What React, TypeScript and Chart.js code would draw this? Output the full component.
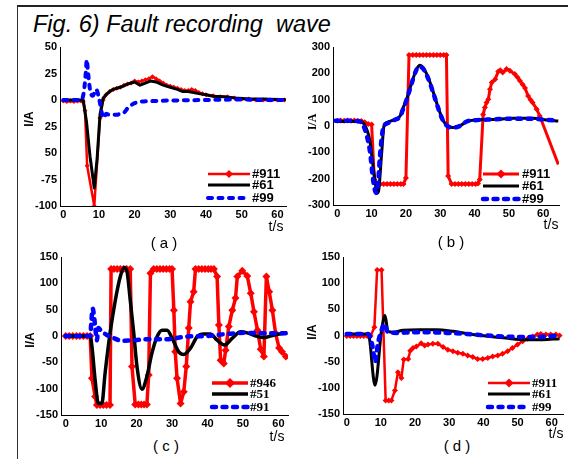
import React, { useEffect, useRef } from "react";
import { Chart, registerables } from "chart.js";
Chart.register(...registerables);

type P = [number, number];

// ---------- tick values / labels ----------
const X_TICKS = [0, 10, 20, 30, 40, 50, 60];
const X_LABELS = ["0", "10", "20", "30", "40", "50", "60"];
const A_Y_TICKS = [50, 25, 0, -25, -50, -75, -100];
const A_Y_LABELS = ["50", "25", "0", "25", "50", "-75", "-100"];
const B_Y_TICKS = [300, 200, 100, 0, -100, -200, -300];
const B_Y_LABELS = ["300", "200", "100", "0", "-100", "-200", "-300"];
const CD_Y_TICKS = [150, 100, 50, 0, -50, -100, -150];
const CD_Y_LABELS = ["150", "100", "50", "0", "-50", "-100", "-150"];

// ---------- series names ----------
const A_NAMES = ["#911", "#61", "#99"];
const B_NAMES = ["#911", "#61", "#99"];
const C_NAMES = ["#946", "#51", "#91"];
const D_NAMES = ["#911", "#61", "#99"];

// ---------- (a) ----------
const A_911: P[] = [[0,-1],[1,-1.5],[2,-1],[3,-1.5],[4,-1],[5,-1],[5.6,-1.5],[6.1,-10],[6.7,-62],[8.7,-100],[10.3,-17],[11.2,0],[12,5],[13,8],[14,10],[15,11],[16,12],[17,14],[18,15],[19,16],[20,18],[21,17],[22,18],[23,19],[24,20],[25,22],[26,20],[27,18],[28,16],[29,14],[30,13],[31,12],[32,11],[33,10],[34,9],[35,9],[36,10],[37,9],[38,7],[39,6],[40,5],[42,4],[44,3],[46,3],[48,2],[50,1],[52,1],[54,0],[56,0],[58,0],[60,0],[62,0]];
const A_61: P[] = [[0,0],[2,0],[4,0],[5.6,0],[6.5,-20],[7.5,-53],[8.7,-83],[9.5,-55],[10.3,-14],[11.2,2],[12,5],[13,8],[14,10],[16,12],[18,15],[20,17],[21.5,14],[23,16],[24.5,18],[26,17],[28,14],[30,12],[32,10],[33.5,8],[35,8],[38,6],[40,5],[42,3.5],[45,3],[48,2],[52,1],[56,1],[60,0.5],[62.3,0.5]];
const A_99: P[] = [[0,0],[2,0],[4,0],[5,0],[5.8,8],[6.3,25],[6.6,38],[6.9,28],[7.2,18],[7.6,8],[8.3,4],[9.2,10],[9.8,5],[10.3,-3],[10.8,-12],[11.4,-17],[12,-13],[13,-14],[14,-14],[15,-14],[16,-13],[17,-12],[18,-8],[19,-5],[20,-3],[22,-1.5],[25,-1],[30,-0.5],[40,0],[50,0.5],[55,0],[60,0],[62.3,0]];

// ---------- (b) ----------
const B_911: P[] = [[0,20],[1,21],[2,20],[3,21],[4,20],[5,21],[6,20],[7,19],[8,14],[9,8],[10,6],[10.8,-203],[11.5,-220],[12.5,-220],[13.5,-220],[14.5,-220],[15.5,-220],[16.5,-220],[17.5,-220],[18.5,-220],[19.3,-220],[20,-197],[20.9,270],[22,270],[23,270],[24,270],[25,270],[26,270],[27,270],[28,270],[29,270],[30,270],[31,270],[31.8,270],[32.3,-190],[33.3,-220],[34.3,-220],[35.3,-220],[36.3,-220],[37.3,-220],[38.3,-220],[39.3,-220],[40.3,-220],[41,-218],[41.5,-203],[42.5,44],[43,70],[43.5,89],[44,102],[44.5,140],[45,165],[46,178],[46.9,207],[47.5,212],[48.2,203],[49.3,216],[50.3,210],[51.7,197],[52.5,185],[53.2,172],[54,158],[54.7,144],[55.6,114],[56.3,100],[56.9,89],[58.1,64],[59,38],[64.4,-146]];
const B_61: P[] = [[-0.5,18],[0,17],[3,18],[6.6,17],[8,4],[9.5,-57],[10.5,-159],[11.7,-254],[12.1,-241],[12.9,-108],[13.6,0],[14.4,13],[16.8,25],[18.3,38],[19.2,70],[20.2,102],[21.7,165],[23.1,216],[24.1,231],[25,222],[26.5,184],[28,127],[29.4,70],[30.9,19],[32.3,0],[33.8,-6],[35.7,0],[37.7,17],[40.1,23],[45.4,25],[51.3,29],[57,29],[61,23],[64.4,19]];
const B_99: P[] = [[-0.5,20],[3,20],[6.1,18],[7.3,8],[8.5,-32],[9.5,-95],[10.5,-210],[11.3,-254],[11.9,-216],[12.4,-120],[13.4,-6],[14.4,9],[16.8,24],[18.3,36],[19.2,65],[20.2,100],[21.7,163],[23,212],[23.9,225],[25,218],[26.5,180],[28,124],[29.4,68],[30.9,18],[32.3,-2],[33.8,-6],[35.7,0],[37.7,17],[40.1,22],[45.4,25],[51.3,28],[57,28],[61,23],[64.4,20]];

// ---------- (c) ----------
const C_946: P[] = [[0,0],[1,0],[2,0],[3,0],[4,0],[5,0],[6,0],[6.9,0],[7.4,-80],[8.3,-115],[8.8,-131],[9.7,-131],[10.6,-131],[11.5,-131],[12.5,-131],[12.8,127],[13.6,127],[14.5,127],[15.4,127],[16.3,127],[17.2,127],[18.2,127],[18.7,-58],[19.6,-130],[20.5,-130],[21.3,-130],[22.1,-130],[22.9,-130],[23.4,-74],[23.9,119],[24.8,127],[25.7,127],[26.6,127],[27.5,127],[28.4,127],[29.3,127],[30,127],[30.5,49],[30.9,-30],[31.4,-80],[32.4,-128],[33.3,-106],[34,-58],[34.7,15],[35.2,65],[36.1,84],[36.6,127],[37.5,127],[38.4,127],[39.3,127],[40.2,127],[41,127],[41.8,127],[42.7,113],[43.2,21],[43.7,-46],[44.6,-52],[45.1,-27],[46,18],[47,49],[47.9,72],[48.4,113],[49.8,124],[51.2,114],[52.2,81],[53.1,46],[54.1,11],[55,-25],[55.9,-39],[56.6,113],[57.4,84],[58.3,49],[59.2,5],[60.2,-23],[61,-30],[62.1,-39]];
const C_51: P[] = [[0,0],[3,0],[6.9,0],[7.4,-20],[8.3,-84],[9.2,-128],[10.2,-128],[11.1,-71],[12.5,5],[14,68],[15.4,113],[16.5,130],[17.3,122],[18.2,68],[19.2,5],[20.1,-58],[21.5,-101],[22.9,-77],[24.3,-33],[25.8,-1],[27.2,11],[28.6,11],[30,-4],[31.9,-30],[33.3,-35],[35.2,-23],[37.1,-1],[39,4],[40.8,4],[42.7,-8],[44.8,-17],[47,-4],[49.3,8],[51.2,6],[53.6,0],[55.9,-3],[58.8,2],[62.5,6]];
const C_91: P[] = [[0,0],[3,0],[6.9,0],[7.2,24],[7.6,52],[8,37],[8.3,18],[8.8,-8],[9.2,15],[10.2,8],[11.6,2],[13.5,-4],[15.8,-9],[19.2,-8],[23.9,-6],[28.6,-6],[34.2,-1],[39.9,0],[45.6,4],[50.3,6],[56.9,5],[62.5,5]];

// ---------- (d) ----------
const D_911: P[] = [[0,-1],[1,-1],[2,-1],[3,-1],[4,-1],[5,-1],[6,-1],[7,-1],[8.1,16],[8.9,125],[10.2,125],[11.4,-124],[12.3,-124],[13.1,-124],[14.1,-105],[15,-70],[16,-81],[16.7,-46],[18,-45],[18.6,-29],[19.4,-24],[20.4,-21],[21.8,-15],[22.8,-19],[23.8,-17],[25.2,-16],[26.7,-16],[28.2,-22],[29.6,-27],[31.1,-30],[32.5,-33],[34,-35],[35.4,-38],[36.9,-41],[38.3,-45],[39.8,-45],[41.3,-43],[42.7,-40],[44.2,-38],[45.6,-35],[47.1,-30],[48.5,-24],[50,-17],[51.5,-11],[52.9,-6],[54.4,-2],[55.8,2],[56.8,3],[58.3,2],[59.7,2],[61.2,2],[62.3,0]];
const D_61: P[] = [[0,3],[3,3],[6.3,3],[8.3,-95],[10.2,10],[11.2,38],[12.1,8],[13.6,6],[16.5,10],[21.4,11],[26.2,11],[31.1,8],[35.9,3],[40.8,-1],[46.6,-5],[52.4,-8],[57.3,-8],[62.3,-6]];
const D_99: P[] = [[0,3],[3,3],[6.3,3],[7.6,-22],[8.3,-51],[9.2,-13],[10.2,10],[11,22],[12.1,6],[14.6,5],[19.4,6],[24.3,6],[29.1,5],[35,3],[40.8,0],[46.6,-2],[52.4,-3],[58.3,-2],[62.3,0]];

// ---------- styles / layout ----------
const RED = "#ff0000";
const BLACK = "#000000";
const BLUE = "#0000ff";
const SANS = '"Liberation Sans", Arial, Helvetica, sans-serif';
const SERIF = '"Liberation Serif", "Times New Roman", serif';

type Panel = {
  canvas: { l: number; t: number; w: number; h: number };
  area: { l: number; t: number; r: number; b: number };
  x: [number, number];
  y: [number, number];
  yTicks: number[];
  yLabels: string[];
  names: string[];
  series: P[][];
  red: { r: number; w: number; lr: number; tailNoMarker?: boolean };
  blackW: number;
  blueW: number;
  smooth: boolean;
  legend: { x: number; len: number; tx: number; rows: number[]; font: string };
};

const PANELS: Panel[] = [
  {
    canvas: { l: 28, t: 36, w: 272, h: 186 },
    area: { l: 60, t: 47, r: 286, b: 206 },
    x: [-0.9, 62.4], y: [-100, 50], yTicks: A_Y_TICKS, yLabels: A_Y_LABELS,
    names: A_NAMES, series: [A_911, A_61, A_99],
    red: { r: 2.5, w: 2.5, lr: 4 }, blackW: 3, blueW: 4, smooth: false,
    legend: { x: 208, len: 42, tx: 252, rows: [174, 185, 198], font: `bold 13px ${SANS}` },
  },
  {
    canvas: { l: 300, t: 36, w: 268, h: 186 },
    area: { l: 333, t: 47, r: 559, b: 205 },
    x: [-1.25, 64.6], y: [-300, 300], yTicks: B_Y_TICKS, yLabels: B_Y_LABELS,
    names: B_NAMES, series: [B_911, B_61, B_99],
    red: { r: 3, w: 3, lr: 4.5, tailNoMarker: true }, blackW: 3, blueW: 4.5, smooth: true,
    legend: { x: 483, len: 36, tx: 522, rows: [174, 186, 199], font: `bold 13px ${SANS}` },
  },
  {
    canvas: { l: 28, t: 246, w: 272, h: 186 },
    area: { l: 61, t: 257, r: 288, b: 415 },
    x: [-1.33, 62.7], y: [-150, 150], yTicks: CD_Y_TICKS, yLabels: CD_Y_LABELS,
    names: C_NAMES, series: [C_946, C_51, C_91],
    red: { r: 4, w: 3.5, lr: 5 }, blackW: 3.5, blueW: 4.5, smooth: true,
    legend: { x: 212, len: 36, tx: 250, rows: [383, 394, 407], font: `bold 13px ${SERIF}` },
  },
  {
    canvas: { l: 305, t: 246, w: 263, h: 186 },
    area: { l: 343, t: 257, r: 563, b: 414 },
    x: [-1.08, 63.3], y: [-150, 150], yTicks: CD_Y_TICKS, yLabels: CD_Y_LABELS,
    names: D_NAMES, series: [D_911, D_61, D_99],
    red: { r: 3, w: 2.5, lr: 4.5 }, blackW: 3, blueW: 4.5, smooth: true,
    legend: { x: 488, len: 42, tx: 532, rows: [383, 394, 407], font: `bold 13px ${SERIF}` },
  },
];

type T = { text: string; x: number; y: number; font: string; rot?: boolean };
const TEXTS: T[] = [
  { text: "( a )", x: 164, y: 242, font: `15px ${SANS}` },
  { text: "( b )", x: 451, y: 241, font: `15px ${SANS}` },
  { text: "( c )", x: 166, y: 445, font: `15px ${SANS}` },
  { text: "( d )", x: 457, y: 445, font: `15px ${SANS}` },
  { text: "t/s", x: 276, y: 226, font: `14px ${SANS}` },
  { text: "t/s", x: 551, y: 224, font: `14px ${SANS}` },
  { text: "t/s", x: 277, y: 436, font: `14px ${SANS}` },
  { text: "t/s", x: 556, y: 433, font: `14px ${SANS}` },
  { text: "I/A", x: 29, y: 119, font: `bold 12px ${SANS}`, rot: true },
  { text: "I/A", x: 312, y: 122, font: `bold 12px ${SERIF}`, rot: true },
  { text: "I/A", x: 30, y: 340, font: `bold 12px ${SANS}`, rot: true },
  { text: "I/A", x: 312, y: 332, font: `bold 12px ${SANS}`, rot: true },
];

function diamond(ctx: CanvasRenderingContext2D, x: number, y: number, r: number, color: string) {
  ctx.beginPath();
  ctx.moveTo(x, y - r);
  ctx.lineTo(x + r, y);
  ctx.lineTo(x, y + r);
  ctx.lineTo(x - r, y);
  ctx.closePath();
  ctx.fillStyle = color;
  ctx.fill();
}

function legendPlugin(p: Panel) {
  const lg = p.legend;
  const cl = p.canvas.l;
  const ct = p.canvas.t;
  return {
    id: "insideLegend",
    afterDraw(chart: any) {
      const ctx: CanvasRenderingContext2D = chart.ctx;
      chart.data.datasets.forEach((ds: any, i: number) => {
        const y = lg.rows[i] - ct;
        const x0 = lg.x - cl;
        const x1 = x0 + lg.len;
        ctx.save();
        ctx.strokeStyle = ds.borderColor;
        ctx.lineWidth = ds.borderWidth;
        ctx.lineCap = ds.borderCapStyle || "butt";
        ctx.setLineDash(ds.borderDash || []);
        ctx.beginPath();
        ctx.moveTo(x0, y);
        ctx.lineTo(x1, y);
        ctx.stroke();
        ctx.setLineDash([]);
        if (ds.legendMarker) diamond(ctx, (x0 + x1) / 2, y, ds.legendMarker, ds.borderColor);
        ctx.fillStyle = "#000";
        ctx.font = lg.font;
        ctx.textBaseline = "middle";
        ctx.textAlign = "left";
        ctx.fillText(ds.label, lg.tx - cl, y + 0.5);
        ctx.restore();
      });
    },
  };
}

function makeConfig(p: Panel): any {
  const yW = p.area.l - p.canvas.l;
  const padTop = p.area.t - p.canvas.t;
  const padRight = p.canvas.l + p.canvas.w - p.area.r;
  const xH = p.canvas.t + p.canvas.h - p.area.b;
  const [s0, s1, s2] = p.series;
  const toXY = (s: P[]) => s.map(([x, y]) => ({ x, y }));
  const tickFont = { family: SANS, size: 11, weight: "bold" as const };
  const n0 = s0.length;
  return {
    type: "line",
    data: {
      datasets: [
        {
          label: p.names[0],
          data: toXY(s0),
          borderColor: RED,
          backgroundColor: RED,
          borderWidth: p.red.w,
          borderJoinStyle: "round",
          pointStyle: "rectRot",
          pointRadius: s0.map((_, i) => (p.red.tailNoMarker && i === n0 - 1 ? 0 : p.red.r)),
          pointBackgroundColor: RED,
          pointBorderWidth: 0,
          tension: 0,
          order: 2,
          legendMarker: p.red.lr,
        },
        {
          label: p.names[1],
          data: toXY(s1),
          borderColor: BLACK,
          backgroundColor: BLACK,
          borderWidth: p.blackW,
          borderJoinStyle: "round",
          pointRadius: 0,
          cubicInterpolationMode: p.smooth ? "monotone" : "default",
          tension: 0,
          order: 1,
        },
        {
          label: p.names[2],
          data: toXY(s2),
          borderColor: BLUE,
          backgroundColor: BLUE,
          borderWidth: p.blueW,
          borderDash: [4, 6.5],
          borderCapStyle: "round",
          borderJoinStyle: "round",
          pointRadius: 0,
          cubicInterpolationMode: "monotone",
          tension: 0,
          order: 0,
        },
      ],
    },
    options: {
      animation: false,
      responsive: false,
      events: [],
      layout: { padding: { top: padTop, right: padRight, bottom: 0, left: 0 } },
      plugins: { legend: { display: false }, tooltip: { enabled: false }, title: { display: false } },
      scales: {
        x: {
          type: "linear",
          min: p.x[0],
          max: p.x[1],
          grid: { display: true, drawOnChartArea: false, drawTicks: false },
          border: { display: true, color: "#000", width: 1 },
          afterBuildTicks: (s: any) => {
            s.ticks = X_TICKS.map((v) => ({ value: v }));
          },
          afterFit: (s: any) => {
            s.height = xH;
            s.paddingLeft = 0;
            s.paddingRight = 0;
          },
          ticks: {
            autoSkip: false,
            maxRotation: 0,
            padding: 2,
            color: "#000",
            font: tickFont,
            callback: (_v: any, i: number) => X_LABELS[i],
          },
        },
        y: {
          type: "linear",
          min: p.y[0],
          max: p.y[1],
          grid: { display: true, drawOnChartArea: false, drawTicks: false },
          border: { display: true, color: "#000", width: 1 },
          afterBuildTicks: (s: any) => {
            s.ticks = p.yTicks.map((v) => ({ value: v }));
          },
          afterFit: (s: any) => {
            s.width = yW;
            s.paddingTop = 0;
            s.paddingBottom = 0;
          },
          ticks: {
            autoSkip: false,
            padding: 3,
            color: "#000",
            font: tickFont,
            callback: (_v: any, i: number) => p.yLabels[i],
          },
        },
      },
    },
    plugins: [legendPlugin(p)],
  };
}

export default function App() {
  const refs = useRef<(HTMLCanvasElement | null)[]>([]);

  useEffect(() => {
    const charts = PANELS.map((p, i) => new Chart(refs.current[i] as HTMLCanvasElement, makeConfig(p)));
    return () => charts.forEach((c) => c.destroy());
  }, []);

  return (
    <div
      style={{
        position: "absolute",
        left: 0,
        top: 0,
        width: 568,
        height: 459,
        background: "#fff",
        overflow: "hidden",
        fontFamily: SANS,
      }}
    >
      <div
        style={{
          position: "absolute",
          left: 17,
          top: 5,
          width: 560,
          height: 460,
          borderTop: "2px solid #222",
          borderLeft: "1.5px solid #333",
        }}
      />
      <div
        style={{
          position: "absolute",
          left: 33,
          top: 11,
          fontFamily: SANS,
          fontStyle: "italic",
          fontSize: 23.5,
          whiteSpace: "pre",
          color: "#000",
        }}
      >
        {"Fig. 6) Fault recording  wave"}
      </div>
      {PANELS.map((p, i) => (
        <canvas
          key={i}
          ref={(el) => {
            refs.current[i] = el;
          }}
          width={p.canvas.w}
          height={p.canvas.h}
          style={{ position: "absolute", left: p.canvas.l, top: p.canvas.t, width: p.canvas.w, height: p.canvas.h }}
        />
      ))}
      {TEXTS.map((t, i) => (
        <div
          key={"t" + i}
          style={{
            position: "absolute",
            left: t.x,
            top: t.y,
            font: t.font,
            lineHeight: 1,
            whiteSpace: "pre",
            color: "#000",
            transform: `translate(-50%, -50%)${t.rot ? " rotate(-90deg)" : ""}`,
          }}
        >
          {t.text}
        </div>
      ))}
    </div>
  );
}
